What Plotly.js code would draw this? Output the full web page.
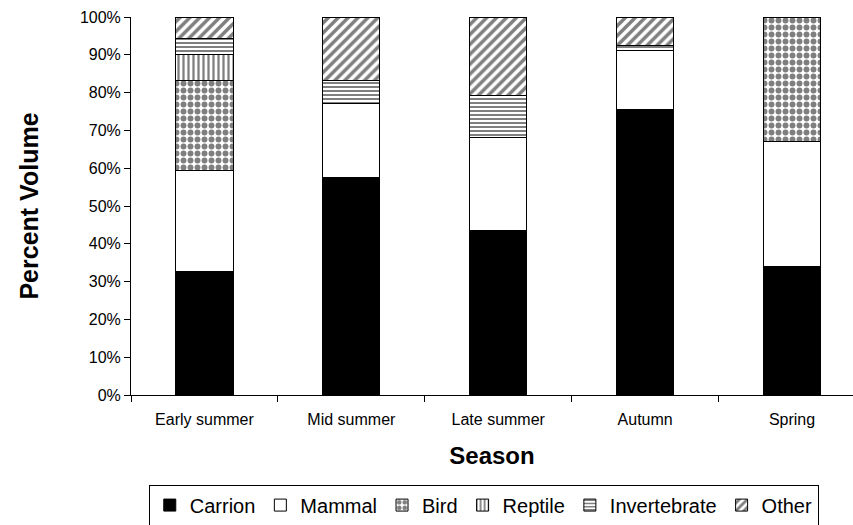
<!DOCTYPE html>
<html>
<head>
<meta charset="utf-8">
<script src="https://cdn.plot.ly/plotly-3.0.1.min.js"></script>
<style>html,body{margin:0;padding:0;background:#fff;}#chart{width:853px;height:525px;}</style>
</head>
<body>
<div id="chart"></div>
<script>
const seasons = ["Early summer", "Mid summer", "Late summer", "Autumn", "Spring"];
const carrion = [32.6, 57.6, 43.6, 75.5, 33.9];
const mammal = [26.8, 19.6, 24.5, 15.6, 33.2];
const bird = [23.8, 0, 0, 0, 32.9];
const reptile = [6.8, 0, 0, 0, 0];
const invertebrate = [4.2, 6.0, 11.1, 1.3, 0];
const other = [5.8, 16.8, 20.8, 7.6, 0];

const F = "Liberation Sans, Arial, sans-serif";
const line = {color: "#000", width: 1};
function mk(name, vals, fill, pattern) {
  const m = {color: fill, line: line};
  if (pattern) m.pattern = pattern;
  return {type: "bar", name: name, x: seasons, y: vals.map(v => v / 100), marker: m, hoverinfo: "none"};
}
const data = [
  mk("Carrion", carrion, "#000"),
  mk("Mammal", mammal, "#fff"),
  mk("Bird", bird, "#fff", {shape: ".", fgcolor: "#000", bgcolor: "#fff", size: 7, solidity: 0.55, fillmode: "overlay"}),
  mk("Reptile", reptile, "#fff", {shape: "|", fgcolor: "#000", bgcolor: "#fff", size: 5, solidity: 0.45, fillmode: "overlay"}),
  mk("Invertebrate", invertebrate, "#fff", {shape: "-", fgcolor: "#000", bgcolor: "#fff", size: 4, solidity: 0.5, fillmode: "overlay"}),
  mk("Other", other, "#fff", {shape: "/", fgcolor: "#000", bgcolor: "#fff", size: 7, solidity: 0.5, fillmode: "overlay"})
];
const layout = {
  width: 853, height: 525,
  margin: {l: 131, r: 0, t: 17, b: 130, pad: 0, autoexpand: false},
  paper_bgcolor: "#fff", plot_bgcolor: "#fff",
  barmode: "stack", bargap: 0.61,
  showlegend: true,
  font: {family: F, color: "#000", size: 16},
  xaxis: {
    type: "category", range: [-0.5, 4.415], showgrid: false, zeroline: false,
    showline: true, linecolor: "#000", linewidth: 1,
    ticks: "outside", tickson: "boundaries", ticklen: 6, tickcolor: "#000",
    ticklabelstandoff: 10,
    tickfont: {family: F, size: 16, color: "#000"},
    title: {text: "Season", font: {family: F, size: 24, color: "#000", weight: "bold"}, standoff: 19},
    fixedrange: true
  },
  yaxis: {
    range: [0, 1], dtick: 0.1, tickformat: ".0%", showgrid: false, zeroline: false,
    showline: true, linecolor: "#000", linewidth: 1,
    ticks: "outside", ticklen: 6, tickcolor: "#000",
    tickfont: {family: F, size: 16, color: "#000"},
    title: {text: "Percent Volume", font: {family: F, size: 25, color: "#000", weight: "bold"}, standoff: 34},
    fixedrange: true
  },
  legend: {
    orientation: "h", x: 0.4886, xanchor: "center", y: -0.237, yanchor: "top",
    bordercolor: "#000", borderwidth: 1, bgcolor: "#fff",
    font: {family: F, size: 20, color: "#000"},
    traceorder: "normal", itemwidth: 30
  }
};
Plotly.newPlot("chart", data, layout, {staticPlot: true, displayModeBar: false});
</script>
</body>
</html>
